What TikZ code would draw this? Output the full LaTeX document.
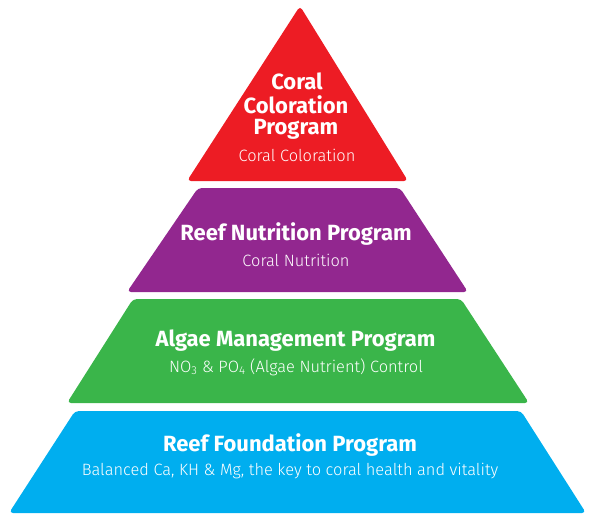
\documentclass[tikz,border=0pt]{standalone}
\usepackage{fontspec}
\setmainfont{Fira Sans}
\newfontfamily\lightfont{Fira Sans Light}
\definecolor{cred}{HTML}{ED1C24}
\definecolor{cpurple}{HTML}{92278F}
\definecolor{cgreen}{HTML}{3AB54A}
\definecolor{cblue}{HTML}{00AEEF}
\tikzset{
  layer/.style={rounded corners=4pt, draw=none},
  ttl/.style={text=white, font=\fontsize{22}{24}\selectfont\bfseries, align=center, inner sep=0pt},
  sub/.style={text=white, font=\fontsize{16.4}{19}\selectfont\lightfont, inner sep=0pt},
}
\begin{document}
\begin{tikzpicture}[x=1pt,y=-1pt]
\useasboundingbox (0,0) rectangle (589,514);
\fill[layer, fill=cred] (300,6) -- (408,181) -- (187,181) -- cycle;
\fill[layer, fill=cpurple] (198,188) -- (400,188) -- (468,292) -- (127,292) -- cycle;
\fill[layer, fill=cgreen] (133,299) -- (461,299) -- (529,403) -- (67,403) -- cycle;
\fill[layer, fill=cblue] (75,411) -- (521,411) -- (586,513) -- (9,513) -- cycle;
\node[ttl] (t1a) at (297,81) {Coral};
\node[ttl] (t1b) at (296,105) {Coloration};
\node[ttl] (t1c) at (296,129) {Program};
\node[sub] (s1) at (297,155) {Coral Coloration};
\node[ttl] (t2) at (296,234) {Reef Nutrition Program};
\node[sub] (s2) at (296,260) {Coral Nutrition};
\node[ttl] (t3) at (295.5,341) {Algae Management Program};
\node[sub] (s3) at (296,367) {NO\textsubscript{3} \& PO\textsubscript{4} (Algae Nutrient) Control};
\node[ttl] (t4) at (290,445) {Reef Foundation Program};
\node[sub] (s4) at (290,471) {Balanced Ca, KH \& Mg, the key to coral health and vitality};
\end{tikzpicture}
\end{document}
